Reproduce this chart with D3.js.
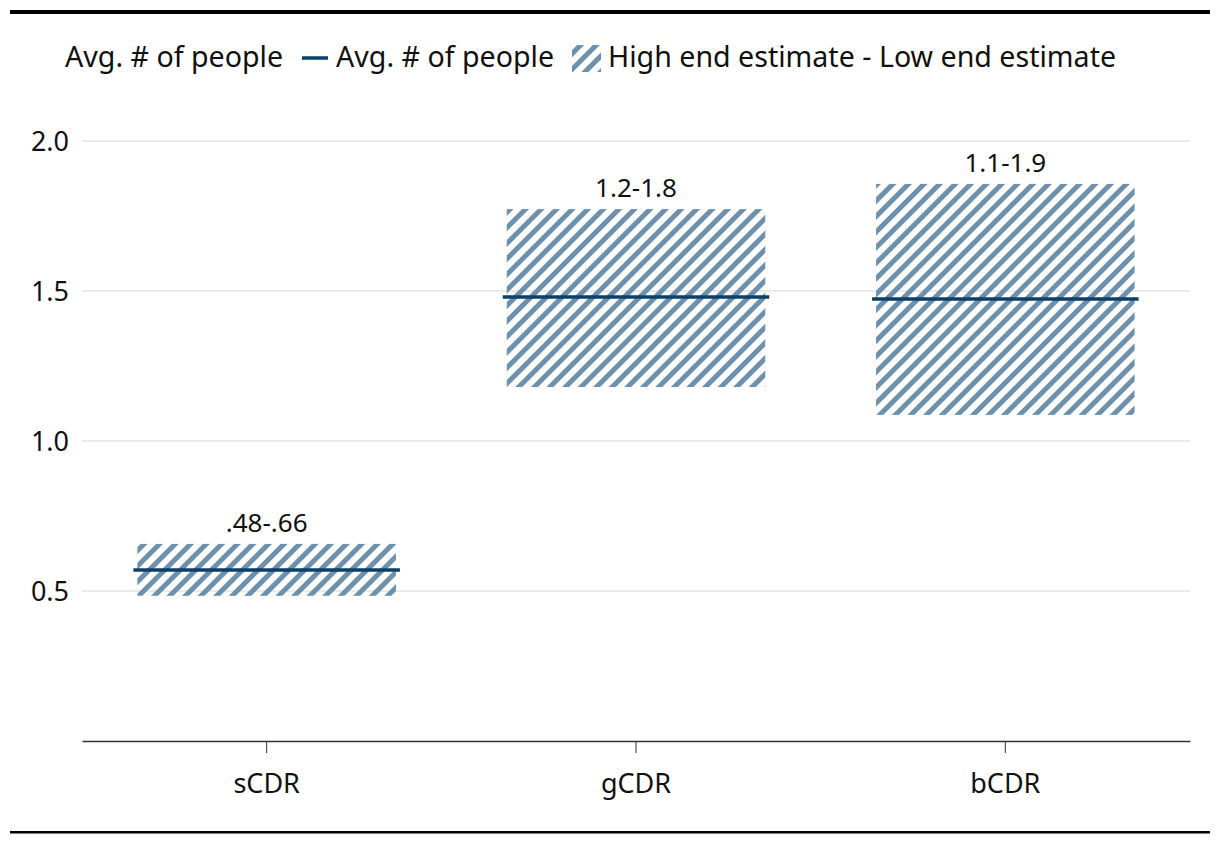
<!DOCTYPE html>
<html><head><meta charset="utf-8">
<script src="https://cdn.jsdelivr.net/npm/d3@7"></script>
<style>body{margin:0;background:#fff;} svg{display:block;font-family:"Noto Sans", sans-serif;}</style>
</head><body>
<svg id="chart" width="1220" height="844"></svg>
<script>
const categories = ["sCDR", "gCDR", "bCDR"];
const lowValues = [0.484, 1.18, 1.087];
const highValues = [0.657, 1.773, 1.857];
const avgValues = [0.57, 1.48, 1.473];
const rangeLabels = [".48-.66", "1.2-1.8", "1.1-1.9"];
const yTicks = [0.5, 1.0, 1.5, 2.0];
const legendLabels = ["Avg. # of people", "Avg. # of people", "High end estimate - Low end estimate"];

const FONT = '"Noto Sans", sans-serif';
const svg = d3.select("#chart");
const W = 1220, H = 844;
const m = {left: 82, right: 30, top: 141, bottom: 103};
const hatchColor = "#6d91ad", lineColor = "#0b4169";

const defs = svg.append("defs");
const pat = defs.append("pattern").attr("id","hatch").attr("patternUnits","userSpaceOnUse")
  .attr("width",11).attr("height",11).attr("patternTransform","rotate(45)");
pat.append("rect").attr("x",0).attr("y",0).attr("width",5).attr("height",11).attr("fill",hatchColor);

svg.append("rect").attr("x",10).attr("y",10).attr("width",1200).attr("height",4).attr("fill","#000");
svg.append("rect").attr("x",10).attr("y",831).attr("width",1200).attr("height",2.5).attr("fill","#000");

const x = d3.scaleBand().domain(categories).range([m.left, W - m.right]).paddingInner(0.3).paddingOuter(0.15);
const y = d3.scaleLinear().domain([0, 2]).range([741, 141]);

// gridlines
svg.append("g").selectAll("line").data(yTicks).join("line")
  .attr("x1", m.left).attr("x2", W - m.right)
  .attr("y1", d => y(d)).attr("y2", d => y(d))
  .attr("stroke", "#e3e3e3").attr("stroke-width", 1.5);

// y axis
const yAxis = svg.append("g").attr("transform", `translate(${m.left},0)`)
  .call(d3.axisLeft(y).tickValues(yTicks).tickFormat(d3.format(".1f")).tickSize(0).tickPadding(13));
yAxis.select(".domain").remove();
yAxis.selectAll("text").attr("font-size", 27).attr("fill", "#111").attr("font-family", FONT).attr("dy", "0.36em");

// bars
svg.append("g").selectAll("rect").data(categories).join("rect")
  .attr("x", d => x(d)).attr("width", x.bandwidth())
  .attr("y", (d,i) => y(highValues[i])).attr("height", (d,i) => y(lowValues[i]) - y(highValues[i]))
  .attr("fill", "url(#hatch)");

// avg lines
svg.append("g").selectAll("line").data(categories).join("line")
  .attr("x1", d => x(d) - 4).attr("x2", d => x(d) + x.bandwidth() + 4)
  .attr("y1", (d,i) => y(avgValues[i])).attr("y2", (d,i) => y(avgValues[i]))
  .attr("stroke", lineColor).attr("stroke-width", 3.5);

// labels
svg.append("g").selectAll("text").data(categories).join("text")
  .attr("x", d => x(d) + x.bandwidth()/2).attr("y", (d,i) => y(highValues[i]) - 12)
  .attr("text-anchor","middle").attr("font-size", 26).attr("fill","#111")
  .text((d,i) => rangeLabels[i]);

// x axis
const xAxis = svg.append("g").attr("transform", `translate(0,741)`)
  .call(d3.axisBottom(x).tickSize(12).tickSizeOuter(0).tickPadding(20));
xAxis.select(".domain").attr("stroke","#333").attr("stroke-width",1.5);
xAxis.selectAll(".tick line").attr("stroke","#333");
xAxis.selectAll("text").attr("font-size", 27).attr("fill","#111").attr("font-family", FONT)
  .attr("dy", null).attr("y", 52);

// legend
const lg = svg.append("g").attr("font-size", 28.6).attr("fill","#111");
lg.append("text").attr("x", 65).attr("y", 67).text(legendLabels[0]);
lg.append("line").attr("x1",302).attr("x2",328).attr("y1",58).attr("y2",58).attr("stroke",lineColor).attr("stroke-width",3.5);
lg.append("text").attr("x", 336).attr("y", 67).text(legendLabels[1]);
lg.append("rect").attr("x",572).attr("y",45).attr("width",29).attr("height",27).attr("fill","url(#hatch)");
lg.append("text").attr("x", 608).attr("y", 67).text(legendLabels[2]);
</script>
</body></html>
